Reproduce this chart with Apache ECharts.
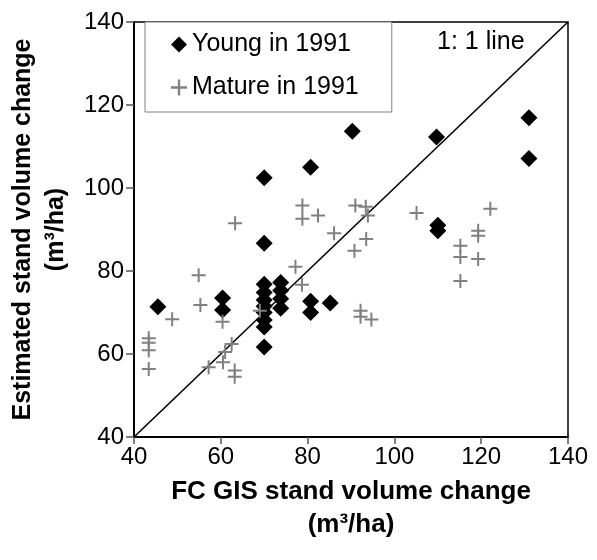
<!DOCTYPE html>
<html>
<head>
<meta charset="utf-8">
<script src="https://cdn.jsdelivr.net/npm/echarts@6/dist/echarts.min.js"></script>
<style>
html,body{margin:0;padding:0;background:#fff;}
#chart{width:597px;height:560px;}
</style>
</head>
<body>
<div id="chart"></div>
<script>
// ---- data ----
var xTicks = [40, 60, 80, 100, 120, 140];
var yTicks = [40, 60, 80, 100, 120, 140];
var seriesNames = ['Young in 1991', 'Mature in 1991'];
var young = [
  [45.5,71.4],[60.4,73.5],[60.4,70.6],
  [70,102.5],[70,86.7],[70,76.8],[70,74.8],[70,73],[70,71.5],[70,70],[70,68.2],[70,66.5],[70,61.7],
  [73.8,77.2],[73.8,75.3],[73.8,73.3],[73.8,71],
  [80.7,105],[80.7,72.7],[80.7,70],[85.2,72.3],[90.3,113.7],
  [109.7,112.3],[110,91],[110,89.7],[131,116.9],[131,107.1]
];
var mature = [
  [43.4,63.8],[43.4,62.7],[43.4,60.9],[43.4,56.4],[48.8,68.4],[54.9,79.0],[55.3,71.8],[57.2,56.8],
  [60.4,67.8],[60.5,58.0],[61.0,60.5],[62.5,62.4],[63.3,91.5],[63.2,56.0],[63.2,54.5],[69.0,70.4],
  [77.2,81.0],[78.7,76.7],[78.8,95.8],[78.8,92.6],[82.4,93.4],[86.1,89.1],[91.0,95.8],[93.4,95.5],
  [93.9,93.4],[93.5,87.7],[90.8,84.9],[92.2,70.4],[92.2,69.0],[94.7,68.3],[105.1,94.0],
  [115.2,86.1],[115.2,83.4],[115.2,77.6],[119.3,89.7],[119.3,88.5],[119.3,82.9],[122.1,95.0]
];
var oneToOne = [40, 140];
var lineLabel = '1: 1 line';
var xTitle = 'FC GIS stand volume change\n(m³/ha)';
var yTitle = 'Estimated stand volume change\n(m³/ha)';

// ---- chart ----
var FONT = '"Liberation Sans", Arial, Helvetica, sans-serif';
var crossPath = 'path://M6,0h2v6h6v2h-6v6h-2v-6h-6v-2h6z';
var chart = echarts.init(document.getElementById('chart'), null, {renderer: 'canvas'});
var option = {
  animation: false,
  backgroundColor: '#fff',
  textStyle: {fontFamily: FONT},
  grid: {
    left: 134, right: 29, top: 22, bottom: 123,
    show: true, borderColor: '#000', borderWidth: 1.5,
    containLabel: false, outerBoundsMode: 'none'
  },
  legend: {
    orient: 'vertical',
    left: 145, top: 22,
    padding: [10, 33, 12, 26],
    itemGap: 18,
    itemWidth: 16, itemHeight: 16,
    backgroundColor: '#fff',
    borderColor: '#808080', borderWidth: 1,
    textStyle: {fontSize: 25, color: '#000', fontFamily: FONT},
    data: [
      {name: seriesNames[0], icon: 'diamond', itemStyle: {color: '#000'}},
      {name: seriesNames[1], icon: crossPath, itemStyle: {color: '#808080'}}
    ]
  },
  xAxis: {
    type: 'value', min: xTicks[0], max: xTicks[xTicks.length - 1], interval: 20,
    name: xTitle, nameLocation: 'middle', nameGap: 38,
    nameTextStyle: {fontSize: 26, fontWeight: 'bold', color: '#000', lineHeight: 33, fontFamily: FONT},
    axisLine: {show: true, lineStyle: {color: '#000', width: 2}},
    axisTick: {show: true, inside: false, length: 7, lineStyle: {color: '#555', width: 1.5}},
    axisLabel: {fontSize: 24, color: '#000', margin: 8, fontFamily: FONT},
    splitLine: {show: false}
  },
  yAxis: {
    type: 'value', min: yTicks[0], max: yTicks[yTicks.length - 1], interval: 20,
    name: yTitle, nameLocation: 'middle', nameGap: 53, nameRotate: 90,
    nameTextStyle: {fontSize: 25, fontWeight: 'bold', color: '#000', lineHeight: 33, fontFamily: FONT},
    axisLine: {show: true, lineStyle: {color: '#000', width: 2}},
    axisTick: {show: true, inside: false, length: 8, lineStyle: {color: '#555', width: 1.5}},
    axisLabel: {fontSize: 24, color: '#000', margin: 10, fontFamily: FONT},
    splitLine: {show: false}
  },
  graphic: [{
    type: 'text', left: 437, top: 30, z: 100,
    style: {text: lineLabel, fontSize: 25, fill: '#000', fontFamily: FONT}
  }],
  series: [
    {
      name: seriesNames[0], type: 'scatter', symbol: 'diamond', symbolSize: 17,
      itemStyle: {color: '#000', opacity: 1}, data: young, z: 2
    },
    {
      name: '1:1', type: 'line', data: [[oneToOne[0], oneToOne[0]], [oneToOne[1], oneToOne[1]]],
      symbol: 'none', lineStyle: {color: '#000', width: 1.6}, z: 3, silent: true
    },
    {
      name: seriesNames[1], type: 'scatter', symbol: crossPath, symbolSize: 14,
      itemStyle: {color: '#808080', opacity: 1}, data: mature, z: 4
    }
  ]
};
chart.setOption(option);
</script>
</body>
</html>
